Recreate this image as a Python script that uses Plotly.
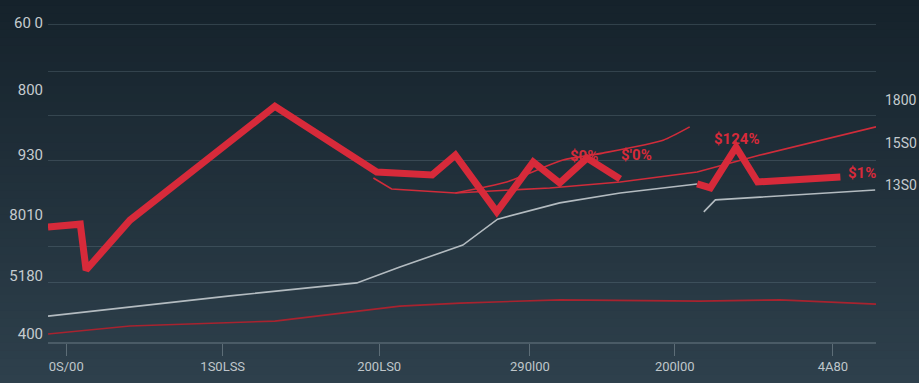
import plotly.graph_objects as go

# ---- data (x: 0-100 horizontal scale, y: 0-100 vertical scale) ----
main_x = [0, 3.9, 4.6, 9.9, 27.4, 39.7, 46.4, 49.2, 54.2, 58.6, 61.8, 65.1, 69.1,
          None, 78.4, 80.0, 83.1, 85.7, 95.7]
main_y = [34.6, 35.5, 21.7, 36.7, 71.0, 51.2, 50.3, 56.3, 39.2, 54.2, 47.9, 55.4, 49.1,
          None, 47.6, 46.4, 58.7, 48.2, 49.7]

trend_b_x = [39.3, 41.5, 49.2, 60.6, 69.1, 78.4, 86.0, 100]
trend_b_y = [49.4, 46.1, 44.9, 46.4, 48.2, 51.2, 56.3, 64.8]

trend_c_x = [49.2, 55.4, 62.2, 67.0, 74.3, 77.5]
trend_c_y = [44.9, 48.2, 54.8, 56.9, 60.8, 64.8]

low_red_x = [0, 9.9, 27.4, 36.5, 42.5, 49.8, 61.8, 78.7, 88.4, 100]
low_red_y = [2.4, 4.8, 6.3, 9.0, 10.8, 11.7, 12.7, 12.3, 12.7, 11.4]

gray_x = [0, 9.9, 22.0, 37.3, 42.5, 50.1, 54.3, 61.8, 69.1, 78.4,
          None, 79.2, 80.6, 99.9]
gray_y = [7.8, 10.5, 13.9, 17.8, 22.6, 29.2, 37.0, 41.9, 44.9, 47.6,
          None, 39.2, 42.8, 45.8]

left_tick_vals = [96.1, 75.9, 56.3, 38.3, 19.9, 2.4]
left_tick_text = ["60 0", "800", "930", "8010", "5180", "400"]

right_tick_vals = [72.9, 59.9, 47.3]
right_tick_text = ["1800", "15S0", "13S0"]

grid_vals = [95.5, 81.6, 68.1, 54.8, 28.9, 17.8]

x_tick_vals = [2.2, 21.1, 40.0, 58.2, 75.7, 94.8]
x_tick_text = ["0S/00", "1S0LSS", "200LS0", "290l00", "200l00", "4A80"]

# labels attached to points of the main line: (index in main series, text, xshift, yshift)
point_labels = [(11, "$0%", -3, 2), (12, "$'0%", 16, 24), (16, "$124%", 1, 8), (18, "$1%", 22, 4)]

RED = "#d72a3a"
fig = go.Figure()

fig.add_trace(go.Scatter(x=low_red_x, y=low_red_y, mode="lines",
                         line=dict(color="#a8232f", width=1.6), hoverinfo="skip"))
fig.add_trace(go.Scatter(x=gray_x, y=gray_y, mode="lines", connectgaps=False,
                         line=dict(color="#b3bbc0", width=1.6), hoverinfo="skip"))
fig.add_trace(go.Scatter(x=trend_b_x, y=trend_b_y, mode="lines",
                         line=dict(color="#d02c3a", width=1.6), hoverinfo="skip"))
fig.add_trace(go.Scatter(x=trend_c_x, y=trend_c_y, mode="lines",
                         line=dict(color="#d02c3a", width=1.6, shape="spline", smoothing=0.6),
                         hoverinfo="skip"))
fig.add_trace(go.Scatter(x=main_x, y=main_y, mode="lines", connectgaps=False,
                         line=dict(color=RED, width=7), hoverinfo="skip"))

# invisible traces to activate extra axes
fig.add_trace(go.Scatter(x=[0, 100], y=[0, 100], yaxis="y2", mode="markers",
                         marker=dict(opacity=0), hoverinfo="skip"))
fig.add_trace(go.Scatter(x=[0, 100], y=[0, 100], yaxis="y3", mode="markers",
                         marker=dict(opacity=0), hoverinfo="skip"))

for idx, txt, xs, ys in point_labels:
    fig.add_annotation(x=main_x[idx], y=main_y[idx], text="<b>%s</b>" % txt, showarrow=False,
                       xshift=xs, yshift=ys,
                       font=dict(color=RED, size=15, family="Roboto"))

# background gradient as bands (paper coords)
top = (0x15, 0x22, 0x2b)
bot = (0x2e, 0x40, 0x4c)
N = 48
p_top, p_bot = 1.035, -0.125
shapes = []
for i in range(N):
    t = i / (N - 1)
    c = tuple(int(round(top[k] + (bot[k] - top[k]) * t)) for k in range(3))
    y1 = p_top - (p_top - p_bot) * i / N
    y0 = p_top - (p_top - p_bot) * (i + 1) / N
    shapes.append(dict(type="rect", xref="paper", yref="paper", x0=-0.07, x1=1.07,
                       y0=y0 - 0.002, y1=y1 + 0.002, line=dict(width=0),
                       fillcolor="rgb(%d,%d,%d)" % c, layer="below"))

fig.update_layout(
    width=919, height=383,
    margin=dict(l=48, r=43, t=10, b=41, autoexpand=False),
    paper_bgcolor="#22313c", plot_bgcolor="rgba(0,0,0,0)",
    showlegend=False, shapes=shapes,
    font=dict(family="Roboto", color="#c5cbcf"),
    xaxis=dict(range=[0, 100], showgrid=False, zeroline=False, automargin=False,
               showline=True, linecolor="#4a5b66", linewidth=1.5,
               tickmode="array", tickvals=x_tick_vals, ticktext=x_tick_text,
               ticks="outside", ticklen=12, tickcolor="#5d6d77", tickwidth=1,
               tickfont=dict(size=13, color="#bfc6ca", family="Roboto")),
    yaxis=dict(range=[0, 100], showgrid=False, zeroline=False, showline=False,
               automargin=False,
               tickmode="array", tickvals=left_tick_vals, ticktext=left_tick_text,
               ticks="", ticklabelstandoff=4, ticksuffix=" ",
               tickfont=dict(size=15, color="#c5cbcf")),
    yaxis2=dict(range=[0, 100], overlaying="y", side="right", showgrid=False,
                zeroline=False, showline=False, automargin=False,
                tickmode="array", tickvals=right_tick_vals, ticktext=right_tick_text,
                ticks="", ticklabelstandoff=8,
                tickfont=dict(size=14, color="#c5cbcf")),
    yaxis3=dict(range=[0, 100], overlaying="y", showgrid=True, automargin=False,
                gridcolor="rgba(120,140,150,0.28)", gridwidth=1,
                tickmode="array", tickvals=grid_vals, showticklabels=False,
                zeroline=False, showline=False),
)

fig.write_html("out.html", config={"displayModeBar": False},
               post_script="document.body.style.margin='0';document.body.style.background='#22313c';")
